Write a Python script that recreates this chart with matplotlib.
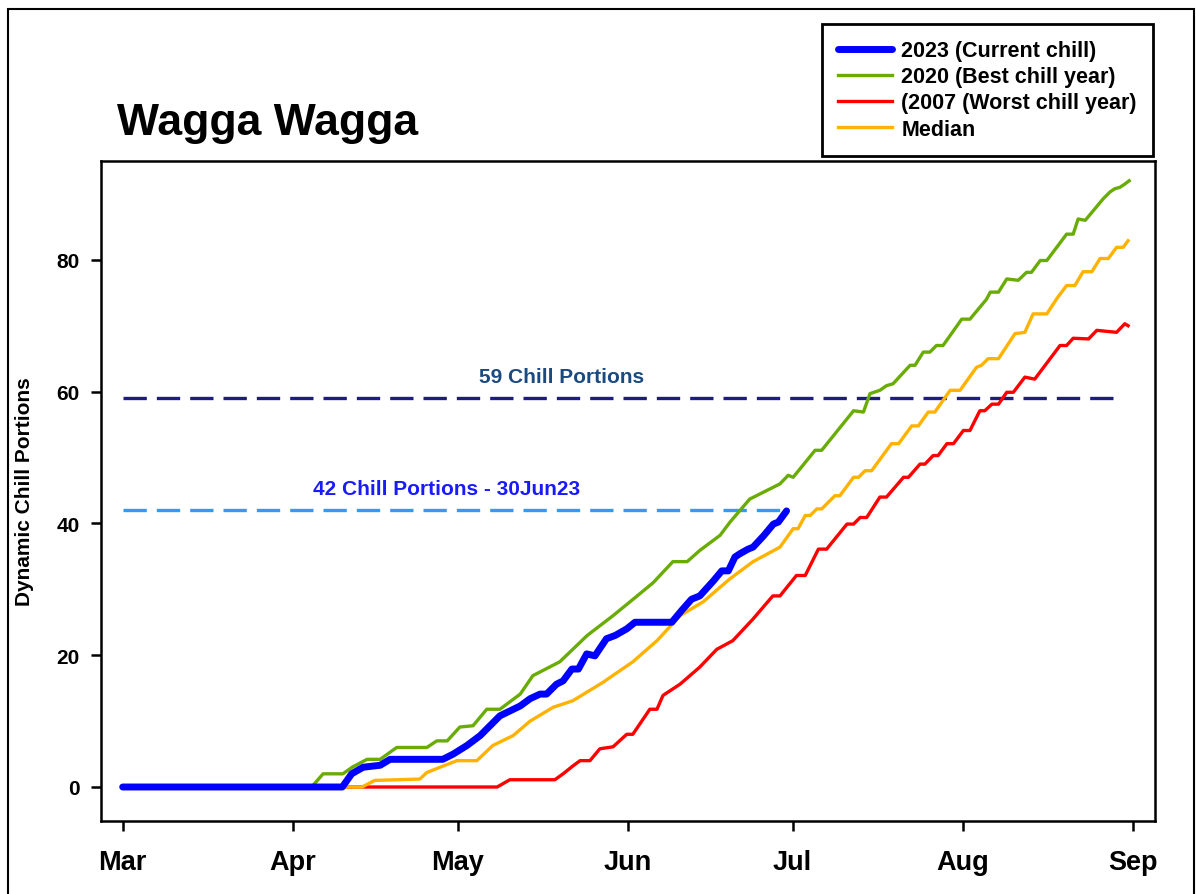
import matplotlib
matplotlib.use("Agg")
import matplotlib.pyplot as plt
from matplotlib.patches import Rectangle

# days counted from 1 March
month_ticks = [0, 31, 61, 92, 122, 153, 184]
month_labels = ["Mar", "Apr", "May", "Jun", "Jul", "Aug", "Sep"]

days_2023 = [0, 40, 41.7, 43.8, 46.9, 48.7, 58.3, 60.2, 62.7, 65.1, 68.7, 72.4, 74.2,
             76.0, 77.2, 79.0, 80.2, 81.8, 83.0, 84.5, 86.0, 88.1, 89.7, 91.8, 93.3,
             100.0, 101.8, 103.6, 105.1, 107.6, 109.1, 110.3, 111.5, 112.4, 113.9, 114.8,
             116.7, 118.5, 119.4, 120.9]
chill_2023 = [0, 0, 2, 3, 3.3, 4.2, 4.2, 5, 6.3, 7.8, 10.8, 12.3, 13.4,
              14.1, 14.1, 15.6, 16.1, 17.9, 17.9, 20.2, 19.9, 22.5, 23.0, 24.0, 25.0,
              25.0, 26.8, 28.5, 29.0, 31.3, 32.8, 32.8, 34.9, 35.4, 36.1, 36.4,
              38.1, 39.9, 40.2, 41.9]

days_2020 = [0, 34.4, 36.5, 40.1, 41.8, 44.5, 46.9, 49.9, 55.4, 57.2, 59.1, 61.4, 63.8,
             66.3, 68.7, 72.4, 74.7, 79.6, 84.6, 89.3, 93.7, 96.6, 100.2, 102.8, 105.1,
             108.8, 110.6, 114.2, 119.7, 121.2, 122.1, 126.1, 127.3, 133.1, 134.9, 136.1,
             137.9, 139.1, 140.3, 143.4, 144.3, 145.8, 147.0, 148.2, 149.4, 152.8, 154.3,
             157.3, 158.0, 159.5, 161.0, 163.1, 164.6, 165.5, 167.1, 168.3, 171.9, 173.1,
             174.0, 175.3, 178.6, 179.8, 180.7, 181.6, 182.5, 183.3]
chill_2020 = [0, 0, 2, 2, 3, 4.2, 4.2, 6, 6, 7, 7, 9.1, 9.3,
              11.8, 11.8, 14.1, 16.9, 19, 23, 26, 29, 31, 34.2, 34.2, 35.9,
              38.2, 40.2, 43.7, 46, 47.3, 47.0, 51.1, 51.1, 57.1, 56.9, 59.7,
              60.2, 60.9, 61.2, 64, 64, 66, 66, 67, 67, 71, 71,
              74, 75.1, 75.1, 77.1, 76.9, 78.1, 78.1, 79.9, 79.9, 83.9, 83.9,
              86.2, 86.0, 89.3, 90.3, 90.8, 91.0, 91.5, 92.0]

days_2007 = [0, 68.2, 70.5, 78.7, 80.2, 82.0, 83.3, 85.1, 86.9, 89.3, 91.8, 92.9, 96.0,
             97.3, 98.4, 101.5, 105.1, 108.2, 111.1, 114.8, 118.4, 119.7, 122.7, 124.3,
             126.7, 128.2, 131.9, 133.1, 134.3, 135.5, 137.9, 139.1, 142.2, 143.1, 145.2,
             146.1, 147.6, 148.5, 150.1, 151.3, 153.1, 154.3, 156.1, 157.0, 158.3, 159.5,
             161.0, 162.2, 164.3, 166.1, 170.7, 171.9, 173.1, 175.9, 177.4, 181.0, 182.5,
             183.1]
chill_2007 = [0, 0, 1.1, 1.1, 2, 3.2, 4, 4, 5.8, 6.1, 8, 8, 11.8,
              11.8, 13.9, 15.6, 18.2, 20.9, 22.2, 25.5, 29, 29, 32.1, 32.1,
              36.1, 36.1, 39.9, 39.9, 40.9, 40.9, 44.0, 44.0, 47.0, 47.0, 49.0,
              49.0, 50.3, 50.3, 52.1, 52.1, 54.1, 54.1, 57.1, 57.1, 58.1, 58.1,
              59.9, 59.9, 62.2, 61.9, 67.0, 67.0, 68.1, 68.0, 69.3, 69.0, 70.3,
              70.0]

days_med = [0, 43.6, 45.9, 54.1, 55.4, 57.8, 60.9, 64.5, 67.4, 71.1, 74.2, 75.4, 78.4,
            82.0, 87.5, 92.9, 97.3, 101.5, 105.7, 110.6, 114.8, 119.7, 122.1, 123.0,
            124.3, 125.2, 126.4, 127.3, 129.7, 130.6, 133.1, 134.0, 135.2, 136.4, 140.0,
            141.3, 143.7, 144.9, 146.7, 147.9, 150.7, 152.5, 155.5, 156.4, 157.6, 159.5,
            162.5, 164.3, 165.8, 168.3, 170.1, 171.9, 173.4, 174.9, 176.5, 178.0, 179.5,
            181.0, 182.2, 183.1]
chill_med = [0, 0, 1.0, 1.2, 2.2, 3, 4, 4, 6.3, 7.8, 10, 10.6, 12.1,
             13.1, 15.9, 19, 22.2, 26, 28.1, 31.6, 34.2, 36.4, 39.2, 39.2,
             41.2, 41.2, 42.2, 42.2, 44.2, 44.2, 47.0, 47.0, 48.0, 48.0, 52.1,
             52.1, 54.8, 54.8, 56.9, 56.9, 60.2, 60.2, 63.7, 64.0, 65.0, 65.0,
             68.8, 69.0, 71.8, 71.8, 74.1, 76.1, 76.1, 78.2, 78.2, 80.2, 80.2,
             81.9, 81.9, 82.9]

target = 59
current = 42
current_end = 121
target_end = 182

fig = plt.figure(figsize=(11.96, 8.95), dpi=100)
plt.rcParams['font.family'] = ['Liberation Sans', 'DejaVu Sans']
W, H = 1196, 895
ax = fig.add_axes([101 / W, (H - 822) / H, (1155 - 101) / W, (822 - 162) / H])

ax.plot([0, target_end], [target, target], color="#1c1c82", lw=2.4, ls=(0, (7, 3)))
ax.plot([0, current_end], [current, current], color="#3399ff", lw=2.4, ls=(0, (7, 3)))

ax.plot(days_2020, chill_2020, color="#6aac06", lw=2.4, label="2020 (Best chill year)", zorder=3)
ax.plot(days_2007, chill_2007, color="#ff0000", lw=2.4, label="(2007 (Worst chill year)", zorder=3)
ax.plot(days_med, chill_med, color="#ffb300", lw=2.4, label="Median", zorder=3)
ax.plot(days_2023, chill_2023, color="#0000ff", lw=5, label="2023 (Current chill)",
        solid_capstyle="round", solid_joinstyle="round", zorder=4)

ax.text(80, 60.8, "59 Chill Portions", color="#1a4a80", fontsize=15, fontweight="bold",
        ha="center", va="bottom")
ax.text(59, 43.8, "42 Chill Portions - 30Jun23", color="#1a1aff", fontsize=15,
        fontweight="bold", ha="center", va="bottom")

ax.set_xlim(-3.95, 188.0)
ax.set_ylim(-5.16, 95.0)
ax.set_xticks(month_ticks)
ax.set_xticklabels(month_labels)
ax.set_yticks([0, 20, 40, 60, 80])
for s in ax.spines.values():
    s.set_linewidth(1.8)
ax.tick_params(axis="both", direction="out", length=7.5, width=1.8)
ax.tick_params(axis="x", labelsize=19.5, pad=13)
ax.tick_params(axis="y", labelsize=15, pad=8)
for lab in ax.get_xticklabels() + ax.get_yticklabels():
    lab.set_fontweight("bold")
ax.set_ylabel("Dynamic Chill Portions", fontsize=15, fontweight="bold")
ax.yaxis.set_label_coords(-0.064, 0.5)

fig.text(117 / W, 1 - 135 / H, "Wagga Wagga", fontsize=32, fontweight="bold",
         ha="left", va="baseline")

handles, labels = ax.get_legend_handles_labels()
order = [3, 0, 1, 2]
leg = fig.legend([handles[i] for i in order], [labels[i] for i in order],
                 loc="upper right", bbox_to_anchor=(1153 / W, 1 - 25 / H),
                 prop={"weight": "bold", "size": 15.5},
                 frameon=True, fancybox=False, handlelength=2.5, labelspacing=0.24,
                 borderpad=0.75, handletextpad=0.45, borderaxespad=0)
leg.get_frame().set_edgecolor("black")
leg.get_frame().set_linewidth(2)
leg.get_frame().set_alpha(1)

fig.patches.append(Rectangle((8 / W, -0.01), (1194 - 8) / W, 1.0 - 1 / H,
                             transform=fig.transFigure, fill=False,
                             edgecolor="black", lw=1.5))

fig.savefig("out.png", dpi=100)
